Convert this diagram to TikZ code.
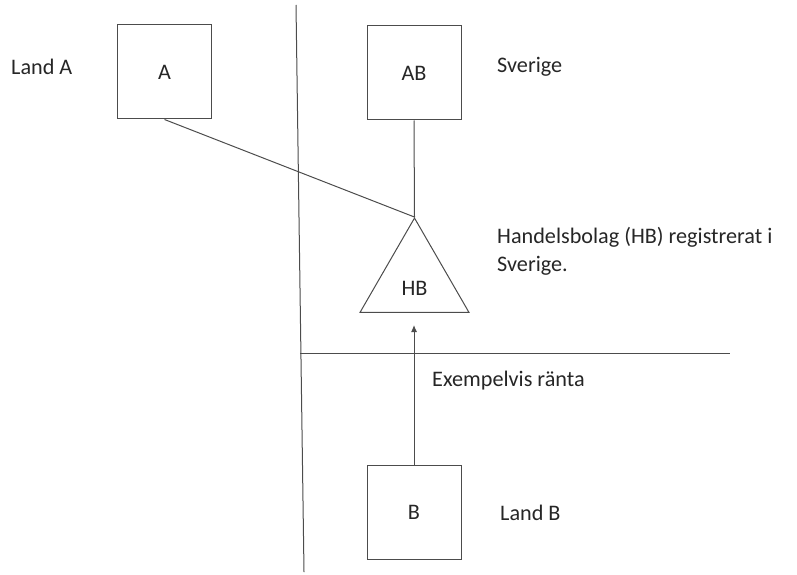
\documentclass[tikz,border=0pt]{standalone}
\usepackage{fontspec}
\setmainfont{Carlito}
\usetikzlibrary{shapes.geometric,arrows.meta}

\begin{document}
\begin{tikzpicture}[x=1pt,y=-1pt,
  every node/.style={font=\fontsize{22.2}{28}\selectfont,text=black!85},
  box/.style={draw=black!70,line width=1pt,minimum size=94pt,inner sep=0pt},
  txt/.style={anchor=west,inner sep=0pt,align=left},
  ln/.style={draw=black!70,line width=1pt}]
  \useasboundingbox (0,0) rectangle (797,575);
  % borders between the countries
  \coordinate (top) at (296,5);
  \coordinate (bot) at (304,572);
  \coordinate (hl) at (300,353);
  \coordinate (hr) at (730,353);
  \draw[ln] (top) -- (bot);
  \draw[ln] (hl) -- (hr);
  % companies
  \node[box] (A) at (164.5,72) {A};
  \node[box] (AB) at (414,73) {AB};
  \node[box] (B) at (414,512) {B};
  \node[draw=black!70,line width=1pt,regular polygon,regular polygon sides=3,
        minimum size=125.9pt,inner sep=0pt,label={[yshift=-7pt]center:HB}] (HB) at (414.5,281) {};
  \coordinate (tip) at (414,325);
  \draw[ln] (A.south) -- (HB.corner 1);
  \draw[ln] (AB.south) -- (HB.corner 1);
  \draw[ln,-{Latex[length=7pt,width=6pt]}] (B.north) -- (tip);
  % texts
  \node[txt] (landA) at (11,67) {Land A};
  \node[txt] (sve) at (497,67) {Sverige};
  \node[txt] (hbtxt) at (497,251) {Handelsbolag (HB) registrerat i\\Sverige.};
  \node[txt] (ranta) at (432,381) {Exempelvis ränta};
  \node[txt] (landB) at (500,513) {Land B};
\end{tikzpicture}
\end{document}
